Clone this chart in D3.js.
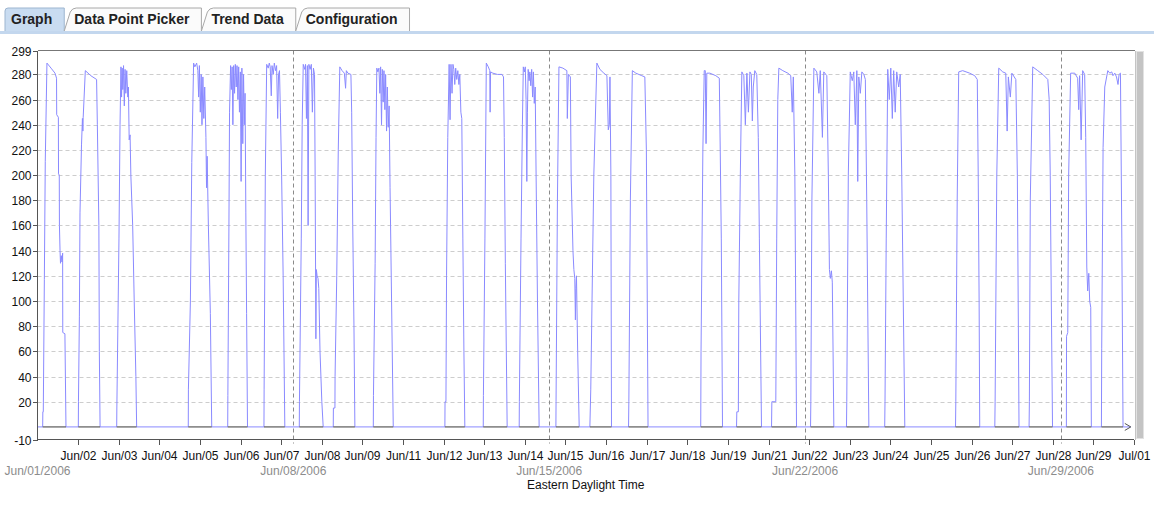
<!DOCTYPE html>
<html><head><meta charset="utf-8">
<script src="https://cdn.jsdelivr.net/npm/d3@7"></script>
<style>
html,body{margin:0;padding:0;background:#fff;}
svg{display:block;font-family:"Liberation Sans",Arial,sans-serif;}
</style></head><body>
<svg id="chart" width="1154" height="506"></svg>
<script>
// Daily readings, [hour of day (EDT), value]
const jun01 = [[3.4,0],[3.5,12],[3.8,12],[4.5,117],[5.1,211],[6.2,289],[8.9,285],[11.5,281],[12.5,277],[12.6,248],[13.7,246],[13.8,201],[14.3,200],[14.4,160],[14.8,140],[15.1,130],[15.6,136],[16.1,131],[16.5,138],[16.6,75],[18.0,74],[18.7,0]];
const jun02 = [[2.8,0],[2.9,20],[3.5,88],[3.9,170],[4.9,224],[5.5,245],[5.8,235],[6.0,246],[7.4,283],[11.0,279],[14.8,276],[15.3,240],[16.3,160],[16.6,60],[17.1,0]];
const jun03 = [[4.0,0],[4.1,15],[5.5,150],[6.2,240],[6.8,286],[7.2,262],[7.6,285],[8.0,268],[8.5,287],[9.0,255],[9.5,284],[10.0,265],[10.6,283],[11.3,262],[11.7,270],[12.2,228],[12.8,232],[13.3,200],[14.5,160],[15.5,100],[16.6,40],[17.1,0]];
const jun05 = [[3.0,0],[3.1,30],[4.4,100],[5.3,210],[6.5,289],[7.3,286],[8.5,289],[9.3,283],[9.8,262],[10.3,287],[10.9,250],[11.5,280],[12.0,240],[12.6,278],[13.2,245],[13.8,270],[14.6,230],[15.0,190],[15.4,215],[16.2,160],[17.5,90],[18.4,0]];
const jun06 = [[4.9,0],[5.0,25],[5.7,160],[6.1,250],[6.8,287],[7.3,268],[7.8,286],[8.3,240],[8.8,287],[9.4,265],[9.9,288],[10.5,270],[11.0,287],[11.6,260],[12.1,286],[12.6,250],[13.2,282],[13.7,195],[14.2,285],[14.8,225],[15.3,280],[15.8,240],[16.3,265],[16.8,170],[17.3,90],[17.9,0]];
const jun07 = [[4.7,0],[4.8,30],[5.6,200],[6.5,288],[7.5,285],[8.2,289],[8.8,286],[9.5,263],[10.0,287],[10.8,280],[11.5,289],[12.3,283],[13.0,287],[13.7,245],[14.3,280],[14.9,283],[15.5,250],[16.3,200],[17.3,120],[18.4,0]];
const jun08 = [[3.9,0],[4.0,20],[5.2,150],[5.8,240],[6.5,288],[7.5,284],[8.0,288],[8.6,245],[9.2,287],[9.7,160],[10.2,288],[11.0,284],[11.8,288],[12.5,250],[13.2,285],[13.9,280],[14.3,200],[14.8,70],[15.1,125],[15.6,120],[16.2,118],[16.7,110],[17.5,60],[18.7,20],[19.6,0]];
const jun09 = [[2.2,0],[2.3,15],[3.3,15],[3.4,40],[4.5,120],[5.5,220],[6.5,286],[8.0,283],[9.5,281],[10.3,269],[10.8,283],[11.8,281],[13.8,280],[14.3,250],[15.0,160],[15.8,80],[16.4,0]];
const jun10 = [[4.5,0],[4.6,25],[5.7,130],[6.3,230],[6.8,285],[7.5,282],[8.2,285],[8.8,265],[9.3,286],[9.9,240],[10.4,284],[11.0,258],[11.5,283],[12.1,252],[12.6,280],[13.2,235],[13.7,270],[14.3,238],[14.9,255],[15.5,190],[16.5,100],[17.6,0]];
const jun12 = [[3.5,0],[3.6,20],[4.2,20],[4.6,120],[5.4,230],[6.3,288],[6.9,244],[7.5,288],[8.2,265],[8.8,288],[9.4,284],[10.0,272],[10.6,285],[11.3,276],[12.0,283],[12.7,272],[13.3,280],[14.0,250],[14.6,245],[15.3,150],[16.0,60],[16.6,0]];
const jun13 = [[4.7,0],[4.8,25],[5.8,150],[6.7,289],[8.0,286],[9.0,283],[9.2,250],[9.5,282],[11.0,281],[14.0,280],[17.0,280],[18.0,278],[18.5,230],[19.2,130],[20.4,0]];
const jun14 = [[4.3,0],[4.4,20],[5.5,150],[6.4,240],[7.0,286],[7.7,282],[8.3,286],[8.8,260],[9.3,195],[9.7,250],[10.2,284],[10.8,275],[11.3,282],[11.9,271],[12.5,284],[13.1,262],[13.6,282],[14.2,257],[14.8,270],[15.4,200],[16.3,100],[17.4,0]];
const jun15 = [[4.4,0],[4.5,20],[5.4,180],[6.4,286],[9.0,285],[11.6,283],[11.9,245],[12.6,280],[13.9,278],[14.4,200],[15.6,140],[16.2,125],[16.8,118],[17.2,85],[17.5,110],[17.9,120],[18.7,60],[19.7,0]];
const jun16 = [[2.7,0],[3.3,30],[5.3,200],[7.3,289],[9.3,284],[11.9,281],[13.9,279],[14.8,236],[15.5,240],[15.9,278],[16.5,200],[16.9,0]];
const jun17 = [[4.1,0],[4.3,20],[5.3,180],[6.6,283],[8.9,281],[12.8,279],[14.8,278],[15.8,220],[16.3,120],[16.9,0]];
const jun19 = [[3.5,0],[3.7,60],[4.9,220],[5.8,283],[6.5,283],[7.0,225],[7.5,281],[9.5,281],[13.4,279],[15.7,277],[16.3,220],[17.0,150],[17.8,0]];
const jun20 = [[3.0,0],[3.2,12],[4.2,12],[4.5,100],[5.5,200],[6.5,282],[7.8,279],[8.8,240],[9.8,281],[10.8,250],[11.8,282],[12.7,280],[13.4,243],[14.0,270],[15.0,283],[16.3,280],[17.3,230],[18.0,150],[19.4,0]];
const jun21 = [[2.0,0],[2.2,20],[4.8,20],[5.4,150],[6.1,260],[6.8,285],[9.4,283],[12.7,281],[14.6,279],[15.6,250],[16.3,278],[17.3,200],[18.4,0]];
const jun22 = [[3.6,0],[3.8,20],[4.5,180],[5.8,285],[7.7,282],[9.1,265],[10.0,283],[11.4,230],[12.3,282],[14.3,279],[15.3,200],[16.0,125],[16.6,118],[17.3,124],[17.9,115],[18.4,60],[18.9,0]];
const jun23 = [[3.2,0],[3.4,20],[4.4,200],[5.7,282],[7.0,275],[8.0,282],[9.0,240],[10.0,283],[10.6,195],[11.3,278],[12.3,265],[13.3,282],[14.6,280],[15.6,276],[16.5,180],[17.9,0]];
const jun24 = [[4.3,0],[4.5,20],[5.3,150],[6.3,284],[7.3,260],[8.3,285],[9.3,245],[10.2,283],[11.2,250],[12.2,282],[13.5,270],[14.5,280],[15.5,200],[16.5,100],[17.5,0]];
const jun26 = [[2.8,0],[3.0,20],[3.9,180],[4.9,282],[7.5,283],[12.1,281],[15.4,279],[17.1,276],[17.7,200],[18.3,100],[18.7,0]];
const jun27 = [[4.6,0],[4.8,20],[5.9,200],[7.2,285],[9.8,282],[11.8,281],[12.7,235],[13.5,278],[14.8,262],[15.8,281],[18.4,276],[19.4,200],[20.5,0]];
const jun28 = [[3.1,0],[3.3,20],[3.9,180],[5.5,286],[8.8,283],[12.1,280],[15.4,276],[16.3,260],[17.0,200],[17.7,100],[18.5,0]];
const jun29 = [[3.6,0],[3.7,72],[4.5,75],[5.1,200],[6.4,281],[9.1,281],[11.0,277],[11.7,252],[12.3,279],[13.3,228],[14.3,283],[15.6,280],[16.3,230],[17.0,127],[17.6,108],[18.3,122],[18.9,100],[19.6,95],[20.0,0]];
const jun30 = [[2.6,0],[2.8,62],[3.7,222],[4.8,270],[6.8,283],[8.1,281],[9.4,282],[10.2,279],[11.4,281],[12.5,278],[13.5,272],[14.2,280],[15.1,281],[16.0,150],[16.8,0]];

// Day of month for each list above (Jun 4, 11, 18 and 25 have no daytime readings)
const dayNumbers = [1,2,3,5,6,7,8,9,10,12,13,14,15,16,17,19,20,21,22,23,24,26,27,28,29,30];
const dayReadings = [jun01,jun02,jun03,jun05,jun06,jun07,jun08,jun09,jun10,jun12,jun13,jun14,jun15,jun16,jun17,jun19,jun20,jun21,jun22,jun23,jun24,jun26,jun27,jun28,jun29,jun30];
// first and last stored sample of the trend: [day, hour, value]
const trendStart = [1, 0, 0];
const trendEnd = [30, 21.9, 0];

const yTicks = [299,280,260,240,220,200,180,160,140,120,100,80,60,40,20,-10];
const gridValues = [280,260,240,220,200,180,160,140,120,100,80,60,40,20];
const xTickLabels = ["Jun/02","Jun/03","Jun/04","Jun/05","Jun/06","Jun/07","Jun/08","Jun/09","Jun/11","Jun/12","Jun/13","Jun/14","Jun/15","Jun/16","Jun/17","Jun/18","Jun/19","Jun/21","Jun/22","Jun/23","Jun/24","Jun/25","Jun/26","Jun/27","Jun/28","Jun/29","Jul/01"];
const weekDays = [1, 8, 15, 22, 29];
const weekLabels = ["Jun/01/2006","Jun/08/2006","Jun/15/2006","Jun/22/2006","Jun/29/2006"];
const tabNames = ["Graph","Data Point Picker","Trend Data","Configuration"];
const axisTitle = "Eastern Daylight Time";

const svg = d3.select("#chart");
const X0 = 37.5, X1 = 1134, Y0 = 439.5, Y1 = 50.5;
const t0 = Date.UTC(2006, 5, 1), t1 = Date.UTC(2006, 6, 1);
const x = d3.scaleUtc().domain([t0, t1]).range([X0, X1]);
const y = d3.scaleLinear().domain([-10, 299]).range([Y0, Y1]);
const when = (day, hour) => Date.UTC(2006, 5, day) + hour * 3600e3;

// ---- tab strip ----
const tabs = svg.append("g");
tabs.append("rect").attr("x", 0).attr("y", 31).attr("width", 1154).attr("height", 3).attr("fill", "#c3d7ee");
let tx = 5;
tabNames.forEach((name, i) => {
  const g = tabs.append("g");
  const path = g.append("path");
  const padL = i === 0 ? 6 : 10, padR = 12;
  const label = g.append("text").attr("x", tx + padL).attr("y", 24)
    .attr("font-size", "14px").attr("font-weight", "bold").attr("fill", "#222").text(name);
  const w = label.node().getComputedTextLength();
  const xr = tx + padL + w + padR;
  const d = i === 0
    ? `M${tx},31 L${tx},11 Q${tx},8 ${tx+3},8 L${xr},8 L${xr},31`
    : `M${tx},31 L${tx+6},12 Q${tx+8},8 ${tx+12},8 L${xr},8 L${xr},31`;
  path.attr("d", d).attr("fill", i === 0 ? "#c9dcf1" : "#fbfbfb")
    .attr("stroke", i === 0 ? "#9db5d0" : "#a8a8a8").attr("stroke-width", 1);
  tx = xr;
});

// ---- grid ----
const plot = svg.append("g");
plot.append("g").selectAll("line").data(gridValues).join("line")
  .attr("x1", X0).attr("x2", X1).attr("y1", d => Math.round(y(d)) + 0.5).attr("y2", d => Math.round(y(d)) + 0.5)
  .attr("stroke", "#cdcdcd").attr("stroke-dasharray", "4,3");

plot.append("g").selectAll("line").data(weekDays.slice(1)).join("line")
  .attr("x1", d => Math.round(x(when(d, 0))) + 0.5).attr("x2", d => Math.round(x(when(d, 0))) + 0.5)
  .attr("y1", Y1).attr("y2", Y0 + 4)
  .attr("stroke", "#8a8a8a").attr("stroke-dasharray", "4,3");

// ---- trend line ----
const series = [{t: when(trendStart[0], trendStart[1]), v: trendStart[2]}];
dayNumbers.forEach((day, i) => dayReadings[i].forEach(([h, v]) => series.push({t: when(day, h), v})));
series.push({t: when(trendEnd[0], trendEnd[1]), v: trendEnd[2]});

const line = d3.line().x(d => x(d.t)).y(d => y(d.v));
plot.append("path").datum(series).attr("d", line)
  .attr("fill", "none").attr("stroke", "#8a8aff").attr("stroke-width", 1);

// zero reference held during daylight intervals
plot.append("g").selectAll("line").data(dayNumbers.map((day, i) => {
    const r = dayReadings[i];
    return [when(day, r[0][0]), when(day, r[r.length - 1][0])];
  })).join("line")
  .attr("x1", d => x(d[0])).attr("x2", d => x(d[1]))
  .attr("y1", y(0)).attr("y2", y(0))
  .attr("stroke", "#666").attr("stroke-width", 1.3);

// continuation arrow at the end of the trend
const ex = x(when(trendEnd[0], trendEnd[1])), ey = y(trendEnd[2]);
plot.append("path").attr("d", `M${ex-6},${ey-3.5} L${ex},${ey} L${ex-6},${ey+3.5}`)
  .attr("fill", "none").attr("stroke", "#555").attr("stroke-width", 1);

// ---- frame & axes ----
const frame = svg.append("g").attr("shape-rendering", "crispEdges");
frame.append("line").attr("x1", X0).attr("x2", X1 + 1).attr("y1", Y1).attr("y2", Y1).attr("stroke", "#777");
frame.append("line").attr("x1", X1 + 1).attr("x2", X1 + 1).attr("y1", Y1).attr("y2", Y0).attr("stroke", "#c4c4c4");
frame.append("line").attr("x1", X0).attr("x2", X0).attr("y1", Y1).attr("y2", Y0).attr("stroke", "#555");
frame.append("line").attr("x1", X0).attr("x2", X1).attr("y1", Y0).attr("y2", Y0).attr("stroke", "#555");

// scroll bar at the right of the plot
svg.append("rect").attr("x", 1136.5).attr("y", 51.5).attr("width", 7).attr("height", 387)
  .attr("fill", "#c4c4c4").attr("stroke", "#e2e2e2");

// y axis
const yAxis = svg.append("g");
yTicks.forEach(v => {
  const yy = Math.round(y(v)) + 0.5;
  yAxis.append("line").attr("x1", X0 - 5).attr("x2", X0).attr("y1", yy).attr("y2", yy)
    .attr("stroke", "#555").attr("shape-rendering", "crispEdges");
  yAxis.append("text").attr("x", X0 - 6).attr("y", yy).attr("dy", "0.35em")
    .attr("text-anchor", "end").attr("font-size", "12px").attr("fill", "#111").text(v);
});

// x axis: evenly spaced ticks over the month
const xAxis = svg.append("g");
const step = (t1 - t0) / xTickLabels.length;
xTickLabels.forEach((lab, k) => {
  const xx = Math.round(x(t0 + (k + 1) * step)) + 0.5;
  xAxis.append("line").attr("x1", xx).attr("x2", xx).attr("y1", Y0).attr("y2", Y0 + 5)
    .attr("stroke", "#555").attr("shape-rendering", "crispEdges");
  xAxis.append("text").attr("x", xx).attr("y", 460).attr("text-anchor", "middle")
    .attr("font-size", "12px").attr("fill", "#111").text(lab);
});
weekDays.forEach((day, i) => {
  xAxis.append("text").attr("x", x(when(day, 0))).attr("y", 475).attr("text-anchor", "middle")
    .attr("font-size", "12px").attr("fill", "#8c8c8c").text(weekLabels[i]);
});
xAxis.append("text").attr("x", (X0 + X1) / 2).attr("y", 489).attr("text-anchor", "middle")
  .attr("font-size", "12px").attr("fill", "#111").text(axisTitle);
</script>
</body></html>
